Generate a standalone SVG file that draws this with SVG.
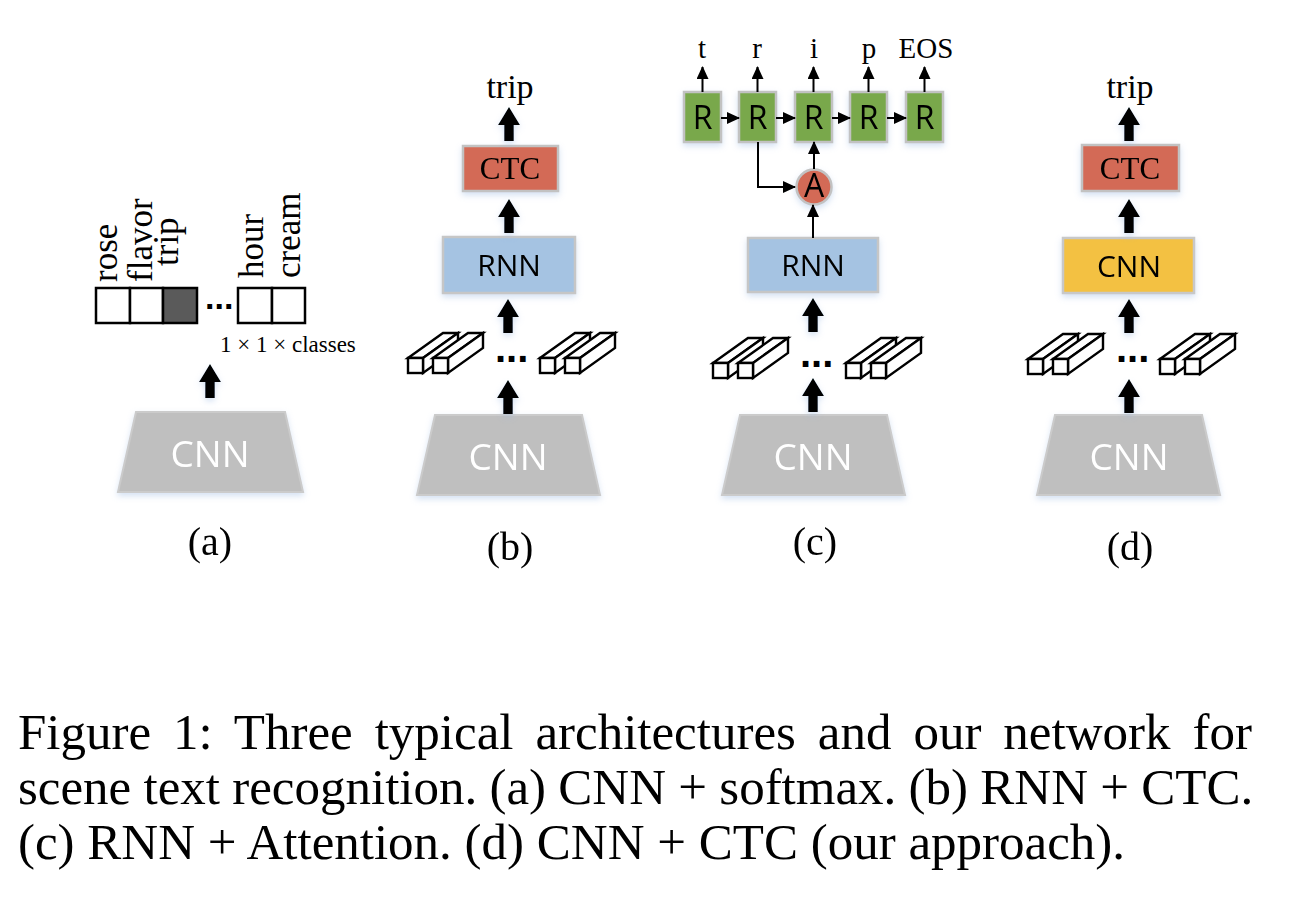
<svg xmlns="http://www.w3.org/2000/svg" xmlns:xlink="http://www.w3.org/1999/xlink" width="1292" height="898" viewBox="0 0 1292 898">
<style>
  .serif { font-family: "Liberation Serif", "Times New Roman", serif; fill: #000; }
  .cap { font-size: 51px; }
  .sub { font-size: 40px; text-anchor: middle; }
  .out { font-size: 34px; text-anchor: middle; }
  .word { font-size: 35px; }
  .ctc { fill: #d36a56; stroke: #c2c2c2; stroke-width: 2.5; }
  .rnn { fill: #a5c3e2; stroke: #c6c6c6; stroke-width: 2.5; }
  .ycnn { fill: #f3c143; stroke: #c8c8c8; stroke-width: 2.5; }
  .gcnn { fill: #bfbfbf; stroke: #cbcbcb; stroke-width: 2; }
  .rbox { fill: #79a84c; stroke: #c2c2c2; stroke-width: 2.5; }
  .cell { fill: #fff; stroke: #000; stroke-width: 2.5; }
  .boxtxt { font-family: "Open Sans", "Noto Sans", sans-serif; font-size: 30px; text-anchor: middle; fill: #000; }
  .cnntxt { font-family: "Open Sans", "Noto Sans", sans-serif; font-size: 37px; text-anchor: middle; fill: #fff; }
  .rtxt { font-family: "Open Sans", "Noto Sans", sans-serif; font-size: 32px; text-anchor: middle; fill: #000; }
  .ctctxt { font-family: "Liberation Serif", "Times New Roman", serif; font-size: 31px; text-anchor: middle; fill: #000; }
  .dots { font-family: "Liberation Sans", Arial, sans-serif; font-weight: bold; fill: #000; }
  .thin { stroke: #000; stroke-width: 2; fill: none; marker-end: url(#head); }
  .thick { fill: #000; }
</style>
<defs>
  <filter id="sh" x="-20%" y="-20%" width="140%" height="160%">
    <feDropShadow dx="0" dy="3" stdDeviation="3" flood-color="#9fbce4" flood-opacity="0.45"/>
  </filter>
  <marker id="head" markerUnits="userSpaceOnUse" markerWidth="13" markerHeight="12" refX="12" refY="6" orient="auto">
    <path d="M0,0 L13,6 L0,12 z" fill="#000"/>
  </marker>
  <path id="arrow" d="M0,0 L11,18 L4.8,18 L4.8,34 L-4.8,34 L-4.8,18 L-11,18 Z"/>
  <g id="prism" fill="#fff" stroke="#000" stroke-width="2.4" stroke-linejoin="miter">
    <polygon points="0,0 35,-25 50,-25 15,0"/>
    <polygon points="15,0 50,-25 50,-10 15,15"/>
    <rect x="0" y="0" width="15" height="15"/>
  </g>
  <g id="prisms">
    <use xlink:href="#prism" x="0" y="0"/>
    <use xlink:href="#prism" x="25" y="0"/>
  </g>
</defs>

<rect width="1292" height="898" fill="#fff"/>

<!-- (a) -->
<g id="a-output">
  <text class="serif word" transform="translate(117,282) rotate(-90)">rose</text>
  <text class="serif word" transform="translate(152,282) rotate(-90)">flavor</text>
  <text class="serif word" transform="translate(178,266) rotate(-90)">trip</text>
  <text class="serif word" transform="translate(263,278) rotate(-90)">hour</text>
  <text class="serif word" transform="translate(300,278) rotate(-90)">cream</text>
  <rect class="cell" x="96" y="288" width="34" height="35"/>
  <rect class="cell" x="130" y="288" width="33" height="35"/>
  <rect class="cell" x="163" y="288" width="34" height="35" style="fill:#5a5a5a"/>
  <text class="dots" x="205" y="309" font-size="34">...</text>
  <rect class="cell" x="238" y="288" width="34" height="35"/>
  <rect class="cell" x="272" y="288" width="33" height="35"/>
  <text class="serif" x="220" y="352" font-size="23">1 × 1 × classes</text>
</g>
<g id="a-cnn" filter="url(#sh)">
  <polygon class="gcnn" points="136,412 285,412 303,492 118,492"/>
  <text class="cnntxt" x="210" y="467">CNN</text>
</g>

<!-- (b) -->
<g id="b-out"><text class="serif out" x="510" y="98">trip</text></g>
<g id="b-ctc" filter="url(#sh)">
  <rect class="ctc" x="463" y="146" width="95" height="45"/>
  <text class="ctctxt" x="510" y="179">CTC</text>
</g>
<g id="b-rnn" filter="url(#sh)">
  <rect class="rnn" x="443" y="237" width="132" height="56"/>
  <text class="boxtxt" x="509" y="276">RNN</text>
</g>
<g id="b-features">
  <use xlink:href="#prisms" x="408" y="358"/>
  <text class="dots" x="495" y="362" font-size="40">...</text>
  <use xlink:href="#prisms" x="540" y="358"/>
</g>
<g id="b-cnn" filter="url(#sh)">
  <polygon class="gcnn" points="435,415 582,415 600,495 417,495"/>
  <text class="cnntxt" x="508" y="470">CNN</text>
</g>

<!-- (c) -->
<g id="c-out" class="serif" font-size="29" text-anchor="middle">
  <text x="702" y="58">t</text>
  <text x="757" y="58">r</text>
  <text x="814" y="58">i</text>
  <text x="869" y="58">p</text>
  <text x="926" y="58">EOS</text>
</g>
<g id="c-r1" filter="url(#sh)"><rect class="rbox" x="684" y="92" width="37" height="50"/><text class="rtxt" x="702.5" y="129">R</text></g>
<g id="c-r2" filter="url(#sh)"><rect class="rbox" x="739" y="92" width="37" height="50"/><text class="rtxt" x="757.5" y="129">R</text></g>
<g id="c-r3" filter="url(#sh)"><rect class="rbox" x="795" y="92" width="37" height="50"/><text class="rtxt" x="813.5" y="129">R</text></g>
<g id="c-r4" filter="url(#sh)"><rect class="rbox" x="850" y="92" width="37" height="50"/><text class="rtxt" x="868.5" y="129">R</text></g>
<g id="c-r5" filter="url(#sh)"><rect class="rbox" x="906" y="92" width="37" height="50"/><text class="rtxt" x="924.5" y="129">R</text></g>
<g id="c-att" filter="url(#sh)">
  <circle cx="814" cy="187" r="17.5" fill="#d36a56" stroke="#c2c2c2" stroke-width="2.5"/>
  <text class="rtxt" x="814" y="197" font-size="28">A</text>
</g>
<g id="c-rnn" filter="url(#sh)">
  <rect class="rnn" x="748" y="238" width="130" height="54"/>
  <text class="boxtxt" x="813" y="276">RNN</text>
</g>
<g id="c-features">
  <use xlink:href="#prisms" x="713" y="363"/>
  <text class="dots" x="800" y="367" font-size="40">...</text>
  <use xlink:href="#prisms" x="846" y="363"/>
</g>
<g id="c-cnn" filter="url(#sh)">
  <polygon class="gcnn" points="740,415 887,415 905,495 722,495"/>
  <text class="cnntxt" x="813" y="470">CNN</text>
</g>

<!-- (d) -->
<g id="d-out"><text class="serif out" x="1130" y="98">trip</text></g>
<g id="d-ctc" filter="url(#sh)">
  <rect class="ctc" x="1082" y="145" width="97" height="46"/>
  <text class="ctctxt" x="1130" y="179">CTC</text>
</g>
<g id="d-cnn1" filter="url(#sh)">
  <rect class="ycnn" x="1063" y="238" width="131" height="55"/>
  <text class="boxtxt" x="1129" y="277">CNN</text>
</g>
<g id="d-features">
  <use xlink:href="#prisms" x="1028" y="359"/>
  <text class="dots" x="1116" y="362" font-size="40">...</text>
  <use xlink:href="#prisms" x="1160" y="359"/>
</g>
<g id="d-cnn" filter="url(#sh)">
  <polygon class="gcnn" points="1055,415 1202,415 1220,495 1037,495"/>
  <text class="cnntxt" x="1129" y="470">CNN</text>
</g>

<!-- connectors -->
<g id="connectors">
  <g class="thick" filter="url(#sh)">
    <use xlink:href="#arrow" transform="translate(210,364)"/>
    <use xlink:href="#arrow" transform="translate(509,107)"/>
    <use xlink:href="#arrow" transform="translate(509,199)"/>
    <use xlink:href="#arrow" transform="translate(508,299)"/>
    <use xlink:href="#arrow" transform="translate(508,380)"/>
    <use xlink:href="#arrow" transform="translate(813,298)"/>
    <use xlink:href="#arrow" transform="translate(813,378)"/>
    <use xlink:href="#arrow" transform="translate(1129,107)"/>
    <use xlink:href="#arrow" transform="translate(1129,199)"/>
    <use xlink:href="#arrow" transform="translate(1129,299)"/>
    <use xlink:href="#arrow" transform="translate(1129,379)"/>
  </g>
  <path class="thin" d="M702.5,92 V67"/>
  <path class="thin" d="M757.5,92 V67"/>
  <path class="thin" d="M813.5,92 V67"/>
  <path class="thin" d="M868.5,92 V67"/>
  <path class="thin" d="M924.5,92 V67"/>
  <path class="thin" d="M721,118 H739"/>
  <path class="thin" d="M776,118 H795"/>
  <path class="thin" d="M832,118 H850"/>
  <path class="thin" d="M887,118 H906"/>
  <path class="thin" d="M758,142 V187 H795"/>
  <path class="thin" d="M814,169 V142"/>
  <path class="thin" d="M813,238 V205"/>
</g>

<!-- labels -->
<g id="labels" class="serif sub">
  <text x="210" y="555">(a)</text>
  <text x="510" y="560">(b)</text>
  <text x="815" y="555">(c)</text>
  <text x="1130" y="560">(d)</text>
</g>

<g id="caption" class="serif cap">
  <text x="18" y="749" word-spacing="9.2">Figure 1: Three typical architectures and our network for</text>
  <text x="18" y="804" word-spacing="-0.5">scene text recognition. (a) CNN + softmax. (b) RNN + CTC.</text>
  <text x="18" y="859">(c) RNN + Attention. (d) CNN + CTC (our approach).</text>
</g>
</svg>
